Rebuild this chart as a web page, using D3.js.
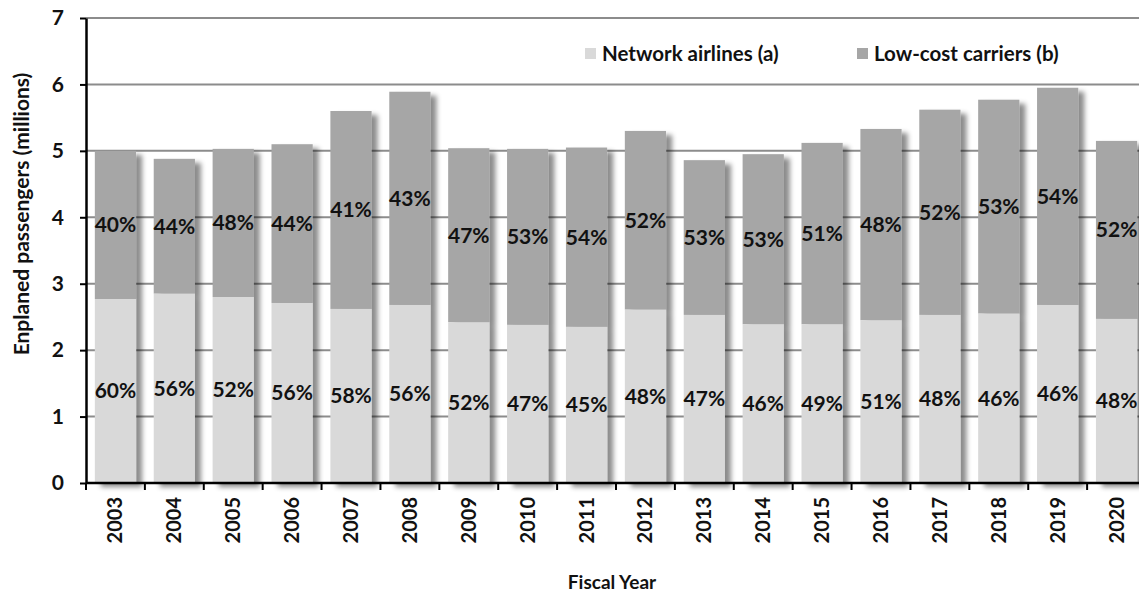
<!DOCTYPE html>
<html>
<head>
<meta charset="utf-8">
<script src="https://cdn.jsdelivr.net/npm/d3@7"></script>
<style>
  body { margin: 0; background: #fff; }
  svg { display: block; font-family: Lato, "Liberation Sans", sans-serif; font-weight: bold; }
</style>
</head>
<body>
<div id="chart"></div>
<script>
// Enplaned passengers by carrier type, fiscal years 2003-2020

// Data
var years = ["2003","2004","2005","2006","2007","2008","2009","2010","2011",
             "2012","2013","2014","2015","2016","2017","2018","2019","2020"];
var network = [2.77, 2.85, 2.80, 2.71, 2.62, 2.68, 2.42, 2.38, 2.35,
               2.61, 2.53, 2.39, 2.39, 2.45, 2.53, 2.55, 2.68, 2.47];
var totals = [5.00, 4.88, 5.03, 5.10, 5.60, 5.89, 5.04, 5.03, 5.05,
              5.30, 4.86, 4.95, 5.12, 5.33, 5.62, 5.77, 5.95, 5.15];
var networkPct = ["60%","56%","52%","56%","58%","56%","52%","47%","45%",
                  "48%","47%","46%","49%","51%","48%","46%","46%","48%"];
var lowCostPct = ["40%","44%","48%","44%","41%","43%","47%","53%","54%",
                  "52%","53%","53%","51%","48%","52%","53%","54%","52%"];
var yTicks = [0, 1, 2, 3, 4, 5, 6, 7];
var seriesNames = ["Network airlines (a)", "Low-cost carriers (b)"];
var colors = ["#d9d9d9", "#a6a6a6"];

var svgWidth = 1139;
var svgHeight = 592;
var margin = {top: 18, left: 86, bottom: 109};
var plotWidth = 1060;
var plotHeight = svgHeight - margin.top - margin.bottom;

var svg = d3.select("#chart").append("svg")
    .attr("width", svgWidth)
    .attr("height", svgHeight);

// soft drop shadow on each bar
var defs = svg.append("defs");
defs.append("filter")
    .attr("id", "shadow")
    .attr("x", "-20%").attr("y", "-10%")
    .attr("width", "160%").attr("height", "130%")
  .append("feDropShadow")
    .attr("dx", 6).attr("dy", 4)
    .attr("stdDeviation", 2.8)
    .attr("flood-color", "#000")
    .attr("flood-opacity", 0.45);

var g = svg.append("g")
    .attr("transform", `translate(${margin.left}, ${margin.top})`);

var x = d3.scaleBand()
    .domain(years)
    .range([0, plotWidth])
    .paddingInner(0.3)
    .paddingOuter(0.15);

var y = d3.scaleLinear()
    .domain([0, 7])
    .range([plotHeight, 0]);

// gridlines
g.append("g")
    .selectAll("line")
    .data(yTicks.filter(d => d > 0))
    .enter()
    .append("line")
    .attr("x1", 0)
    .attr("x2", plotWidth)
    .attr("y1", d => y(d))
    .attr("y2", d => y(d))
    .attr("stroke", "#8c8c8c")
    .attr("stroke-width", 2);

// stacked bars
var data = years.map(function(yr, i) {
    return {year: yr, net: network[i], total: totals[i], np: networkPct[i], lp: lowCostPct[i]};
});

var bars = g.selectAll(".bar")
    .data(data)
    .enter()
    .append("g")
    .attr("class", "bar")
    .attr("filter", "url(#shadow)");

bars.append("rect")
    .attr("x", d => x(d.year))
    .attr("width", x.bandwidth())
    .attr("y", d => y(d.total))
    .attr("height", d => y(d.net) - y(d.total))
    .attr("fill", colors[1]);

bars.append("rect")
    .attr("x", d => x(d.year))
    .attr("width", x.bandwidth())
    .attr("y", d => y(d.net))
    .attr("height", d => y(0) - y(d.net))
    .attr("fill", colors[0]);

// percentage labels centred in each segment
var labels = g.append("g")
    .attr("font-size", "21px")
    .attr("fill", "#111")
    .attr("text-anchor", "middle");

labels.selectAll(".np")
    .data(data)
    .enter()
    .append("text")
    .attr("x", d => x(d.year) + x.bandwidth() / 2)
    .attr("y", d => y(d.net / 2))
    .attr("dy", "0.35em")
    .text(d => d.np);

labels.selectAll(".lp")
    .data(data)
    .enter()
    .append("text")
    .attr("x", d => x(d.year) + x.bandwidth() / 2)
    .attr("y", d => y((d.net + d.total) / 2))
    .attr("dy", "0.35em")
    .text(d => d.lp);

// y axis
var yAxis = g.append("g")
    .call(d3.axisLeft(y).tickValues(yTicks).tickSize(6).tickSizeOuter(0).tickFormat(d3.format("d")));
yAxis.select(".domain").attr("stroke", "#000").attr("stroke-width", 2.5);
yAxis.selectAll(".tick line").attr("stroke", "#000").attr("stroke-width", 2);
yAxis.selectAll(".tick text")
    .attr("font-size", "21px")
    .attr("font-family", "Lato, sans-serif")
    .attr("font-weight", "bold")
    .attr("fill", "#111")
    .attr("x", -22);

// x axis: ticks at the band boundaries
var xAxisG = g.append("g")
    .attr("transform", `translate(0, ${plotHeight})`);
xAxisG.append("line")
    .attr("x1", 0).attr("x2", plotWidth)
    .attr("stroke", "#000").attr("stroke-width", 2.5);
xAxisG.selectAll(".xt")
    .data(years)
    .enter()
    .append("line")
    .attr("x1", d => x(d) - x.step() * x.paddingInner() / 2 + x.step())
    .attr("x2", d => x(d) - x.step() * x.paddingInner() / 2 + x.step())
    .attr("y1", 0).attr("y2", 7)
    .attr("stroke", "#000").attr("stroke-width", 2);
xAxisG.append("line")
    .attr("x1", 0).attr("x2", 0).attr("y1", 0).attr("y2", 7)
    .attr("stroke", "#000").attr("stroke-width", 2);

xAxisG.selectAll(".xl")
    .data(years)
    .enter()
    .append("text")
    .attr("transform", d => `translate(${x(d) + x.bandwidth() / 2 + 7}, 14) rotate(-90)`)
    .attr("text-anchor", "end")
    .attr("font-size", "20px")
    .attr("fill", "#111")
    .text(d => d);

// axis titles
svg.append("text")
    .attr("transform", "translate(29, 214) rotate(-90)")
    .attr("text-anchor", "middle")
    .attr("font-size", "21px")
    .attr("fill", "#111")
    .text("Enplaned passengers (millions)");

svg.append("text")
    .attr("x", 612)
    .attr("y", 589)
    .attr("text-anchor", "middle")
    .attr("font-size", "19px")
    .attr("fill", "#111")
    .text("Fiscal Year");

// legend
var legendX = [585, 857];
var legend = svg.append("g");
legend.selectAll("rect")
    .data(seriesNames)
    .enter()
    .append("rect")
    .attr("x", (d, i) => legendX[i])
    .attr("y", 48)
    .attr("width", 11)
    .attr("height", 11)
    .attr("fill", (d, i) => colors[i]);
legend.selectAll("text")
    .data(seriesNames)
    .enter()
    .append("text")
    .attr("x", (d, i) => legendX[i] + 17)
    .attr("y", 61)
    .attr("font-size", "20.5px")
    .attr("fill", "#111")
    .text(d => d);
</script>
</body>
</html>
